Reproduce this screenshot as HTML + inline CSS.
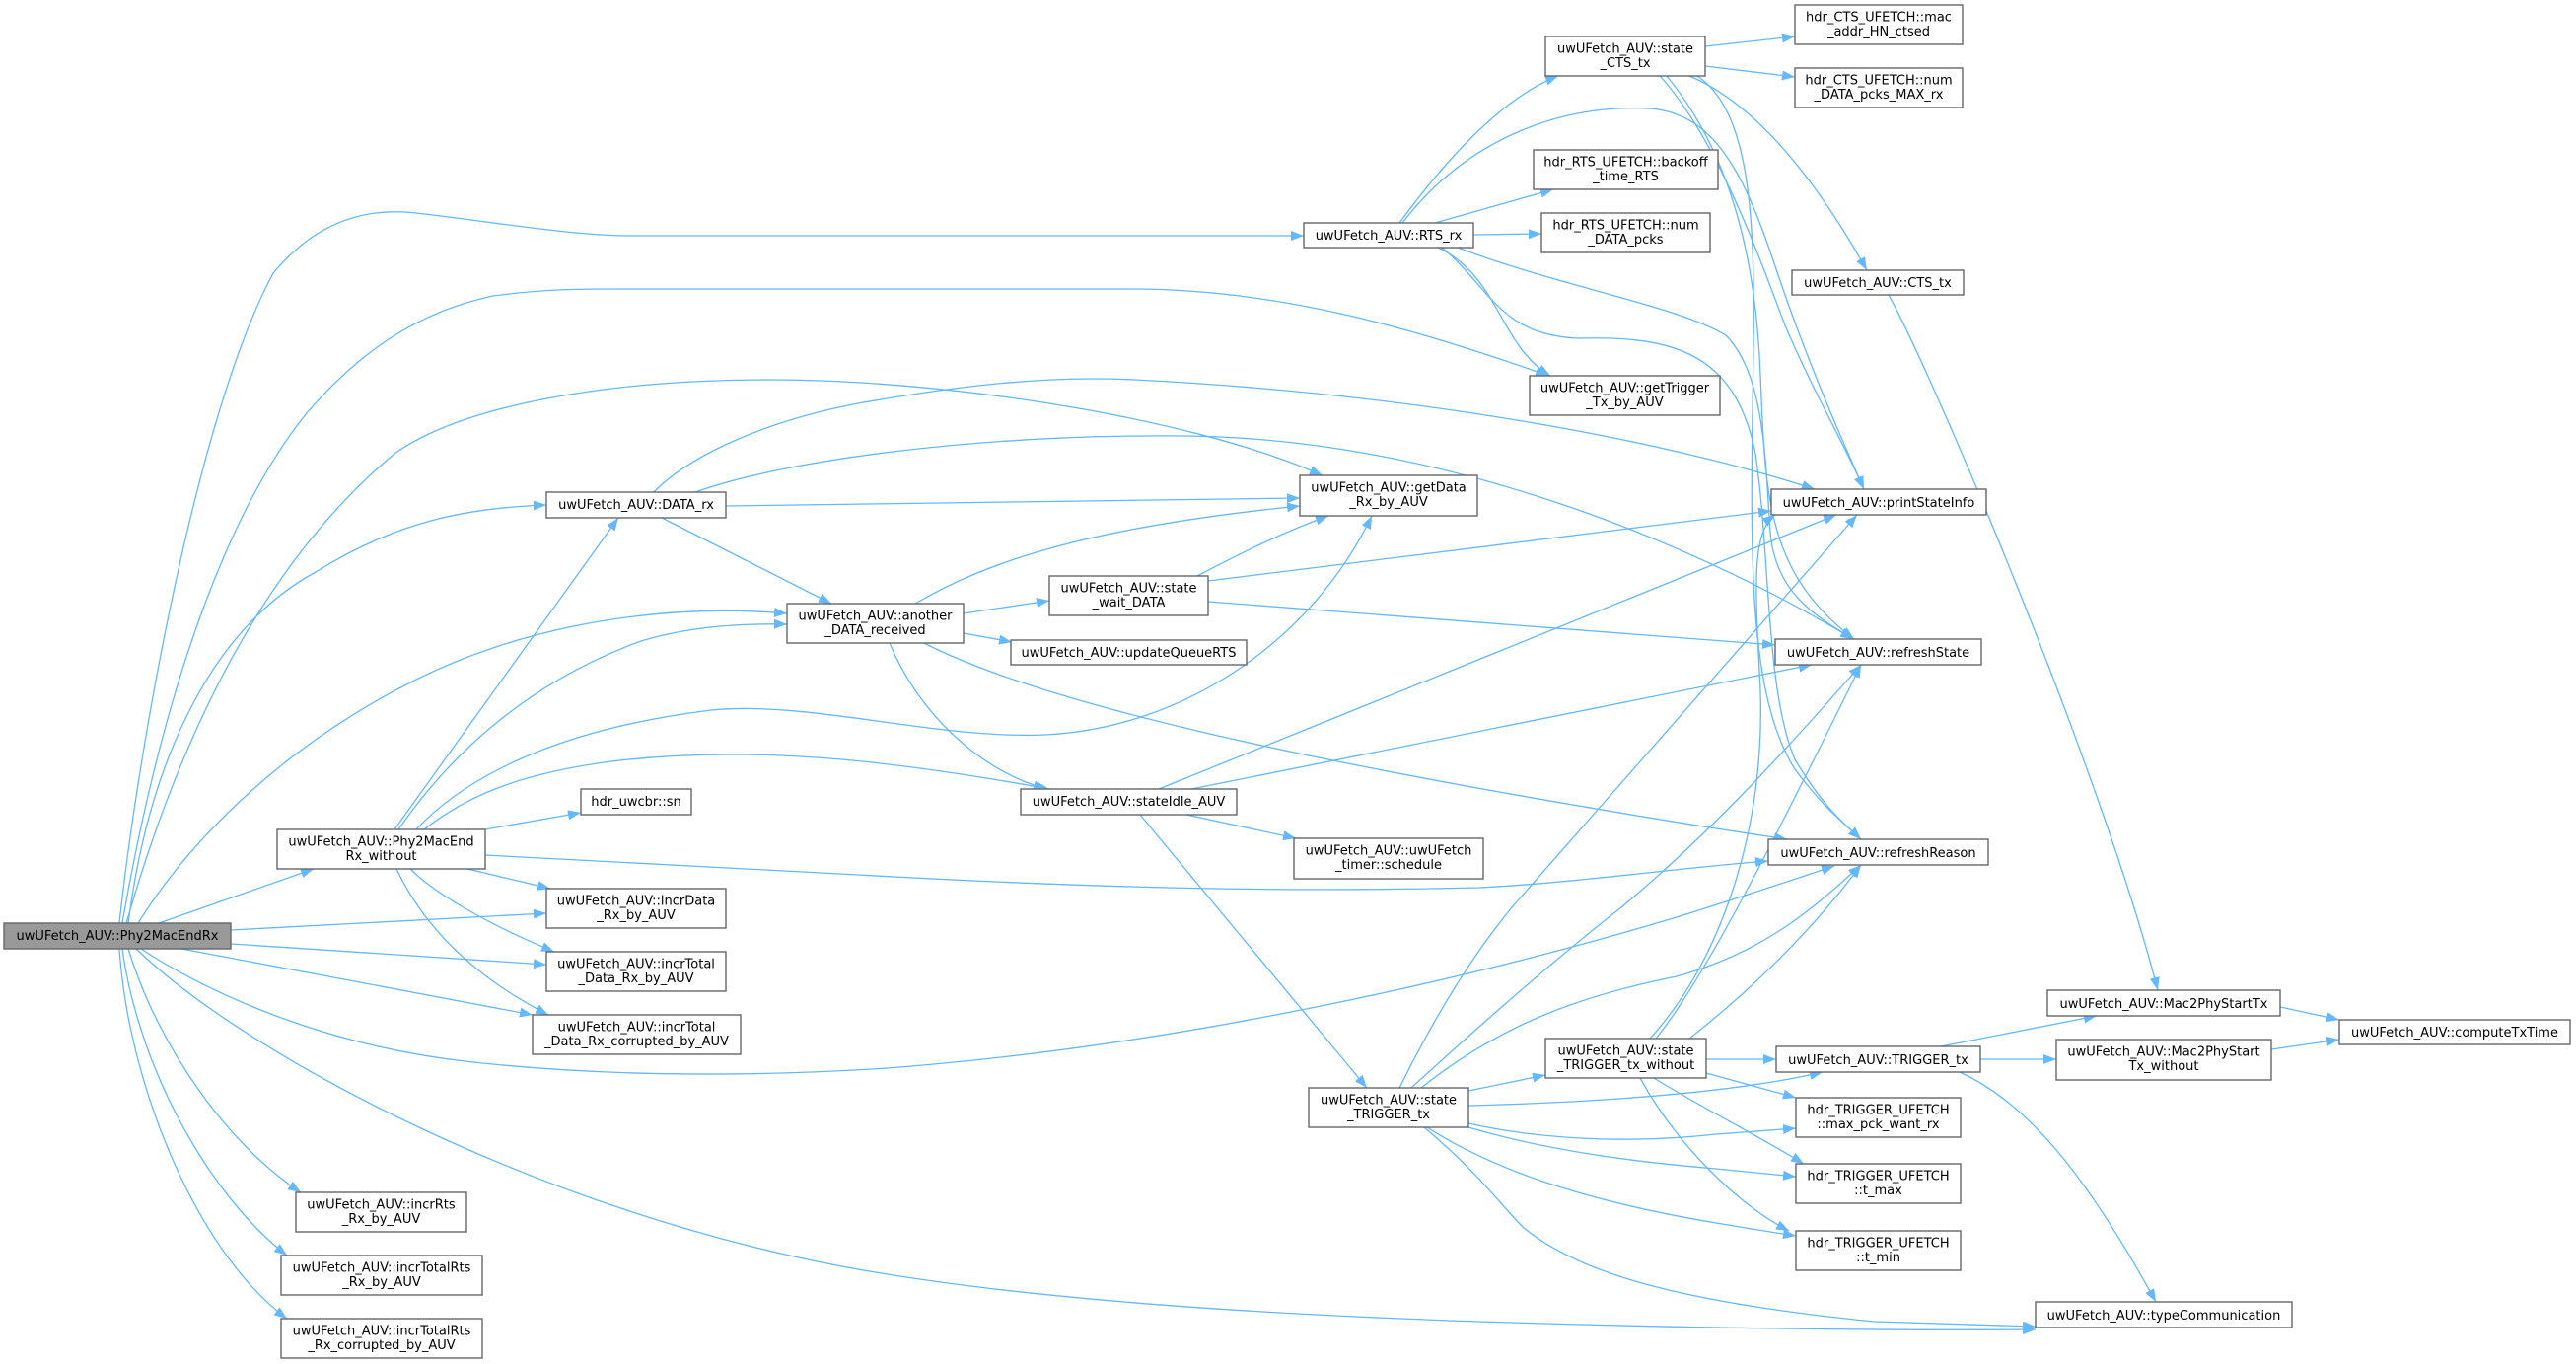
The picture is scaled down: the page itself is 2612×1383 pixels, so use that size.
<!DOCTYPE html>
<html>
<head>
<meta charset="utf-8">
<style>
html,body{margin:0;padding:0;background:#fff;}
body{width:2612px;height:1383px;overflow:hidden;}
svg{display:block;}
text{font-family:"DejaVu Sans","Liberation Sans",sans-serif;font-size:13px;fill:#000;text-anchor:middle;}
.e{fill:none;stroke:#63b8ff;stroke-width:1.3;marker-end:url(#a);}
.n{fill:#fff;stroke:#666;stroke-width:1.4;}
</style>
</head>
<body>
<svg width="2612" height="1383" viewBox="0 0 2612 1383" xmlns="http://www.w3.org/2000/svg">
<defs>
<marker id="a" markerWidth="14" markerHeight="11" refX="13" refY="5" orient="auto" markerUnits="userSpaceOnUse">
<path d="M0,0 L13,5 L0,10 z" fill="#63b8ff"/>
</marker>
</defs>
<g>
<path class="e" d="M121,936 C140,760 200,420 277,277 C320,225 370,210 422,216 C500,225 580,239 640,239 L1322,239"/>
<path class="e" d="M124,936 C165,700 230,520 310,420 C370,350 430,315 500,300 C560,292 600,293 640,293 L1147,293 C1300,293 1440,335 1570,381"/>
<path class="e" d="M128,936 C190,720 280,560 400,460 C470,410 620,385 780,385 C950,385 1200,420 1341,482"/>
<path class="e" d="M130,936 C150,780 210,640 320,580 C400,530 470,515 554,512"/>
<path class="e" d="M140,936 C200,840 300,750 420,690 C540,630 680,612 798,622"/>
<path class="e" d="M161,936 L318,881"/>
<path class="e" d="M234,943 L554,926"/>
<path class="e" d="M234,957 L554,978"/>
<path class="e" d="M184,962 L540,1029"/>
<path class="e" d="M143,962 C200,1000 320,1060 480,1077 C620,1092 760,1092 900,1083 C1200,1060 1500,990 1700,930 C1780,905 1830,888 1860,878"/>
<path class="e" d="M130,962 C160,1060 230,1160 305,1209"/>
<path class="e" d="M124,962 C140,1080 210,1210 291,1273"/>
<path class="e" d="M121,962 C130,1100 200,1270 291,1337"/>
<path class="e" d="M138,962 C250,1070 550,1230 870,1287 C1000,1310 1200,1330 1500,1340 C1750,1348 1950,1349 2064,1348"/>

<path class="e" d="M400,841 L627,525"/>
<path class="e" d="M404,841 C460,760 540,690 650,650 C700,635 750,632 798,633"/>
<path class="e" d="M422,841 C470,790 560,740 721,720 C820,710 950,750 1060,745 C1200,738 1330,650 1391,523"/>
<path class="e" d="M430,841 C470,810 520,785 620,772 C760,755 900,770 1064,800"/>
<path class="e" d="M492,841 L589,824"/>
<path class="e" d="M492,867 L870,887 C1100,900 1300,905 1500,900 C1600,895 1700,880 1793,873"/>
<path class="e" d="M474,881 L558,901"/>
<path class="e" d="M416,881 C440,905 490,935 562,965"/>
<path class="e" d="M402,881 C430,940 480,990 556,1029"/>

<path class="e" d="M671,525 L843,612"/>
<path class="e" d="M736,513 L1318,505"/>
<path class="e" d="M663,499 C690,470 760,430 870,409 C950,395 1050,380 1150,385 C1450,400 1700,450 1840,496"/>
<path class="e" d="M705,499 C800,465 1000,440 1203,442 C1450,445 1700,540 1879,648"/>

<path class="e" d="M928,612 C1000,570 1100,535 1318,513"/>
<path class="e" d="M977,622 L1064,609"/>
<path class="e" d="M977,642 L1026,651"/>
<path class="e" d="M902,652 C930,720 990,780 1061,800"/>
<path class="e" d="M937,652 C1050,710 1300,770 1740,840 L1812,851"/>

<path class="e" d="M1214,584 C1260,560 1300,540 1347,523"/>
<path class="e" d="M1225,589 L1796,518"/>
<path class="e" d="M1225,610 L1800,654"/>

<path class="e" d="M1175,800 L1862,522"/>
<path class="e" d="M1208,800 L1837,674"/>
<path class="e" d="M1203,826 L1314,850"/>
<path class="e" d="M1156,826 L1386,1103"/>

<path class="e" d="M1419,226 C1460,170 1520,100 1580,77"/>
<path class="e" d="M1422,226 C1480,150 1570,105 1673,110 C1740,115 1770,180 1800,270 C1830,360 1865,440 1890,496"/>
<path class="e" d="M1455,226 L1575,192"/>
<path class="e" d="M1494,238 L1563,237"/>
<path class="e" d="M1458,251 C1520,280 1520,350 1572,381"/>
<path class="e" d="M1478,251 C1580,290 1700,310 1750,340 C1790,380 1790,470 1795,540 C1800,600 1840,625 1880,648"/>
<path class="e" d="M1462,251 C1510,290 1520,340 1600,343 C1700,340 1760,360 1780,460 C1795,560 1790,700 1820,770 C1850,820 1870,835 1887,851"/>

<path class="e" d="M1729,47 L1820,37"/>
<path class="e" d="M1729,67 L1820,78"/>
<path class="e" d="M1713,77 C1780,105 1840,180 1893,274"/>
<path class="e" d="M1683,77 C1740,140 1780,250 1810,330 C1840,400 1870,450 1890,496"/>
<path class="e" d="M1690,77 C1750,150 1780,250 1785,380 C1790,500 1790,580 1880,648"/>
<path class="e" d="M1721,77 C1770,110 1780,200 1778,350 C1775,550 1770,700 1820,780 C1850,820 1870,835 1887,851"/>

<path class="e" d="M1915,299 C1960,380 2130,780 2188,1004"/>

<path class="e" d="M1419,1103 C1460,1020 1500,960 1533,920 L1883,522"/>
<path class="e" d="M1431,1103 C1500,1040 1580,970 1644,920 C1740,840 1820,750 1887,674"/>
<path class="e" d="M1441,1103 C1520,1040 1600,1010 1700,990 C1790,965 1840,920 1887,877"/>
<path class="e" d="M1489,1106 L1567,1090"/>
<path class="e" d="M1489,1121 C1600,1118 1750,1110 1848,1087"/>
<path class="e" d="M1489,1139 C1560,1155 1650,1160 1740,1150 L1821,1144"/>
<path class="e" d="M1489,1143 C1580,1170 1680,1180 1740,1185 L1821,1193"/>
<path class="e" d="M1447,1143 C1520,1190 1620,1220 1740,1240 C1770,1245 1800,1250 1821,1253"/>
<path class="e" d="M1444,1143 C1500,1190 1520,1220 1545,1245 C1600,1290 1700,1320 1900,1340 L2064,1345"/>

<path class="e" d="M1673,1053 C1740,980 1790,850 1785,700 C1780,600 1775,540 1800,522"/>
<path class="e" d="M1679,1053 C1730,990 1800,850 1887,674"/>
<path class="e" d="M1713,1053 C1780,1000 1840,940 1887,877"/>
<path class="e" d="M1730,1074 L1801,1074"/>
<path class="e" d="M1730,1088 L1821,1113"/>
<path class="e" d="M1677,1093 C1720,1120 1780,1150 1829,1180"/>
<path class="e" d="M1663,1093 C1700,1160 1760,1220 1814,1248"/>

<path class="e" d="M1968,1061 L2126,1030"/>
<path class="e" d="M2008,1074 L2085,1074"/>
<path class="e" d="M1987,1087 C2060,1120 2120,1200 2186,1320"/>

<path class="e" d="M2312,1021 L2372,1034"/>
<path class="e" d="M2303,1064 L2372,1054"/>
</g>

<g>
<rect x="4" y="936" width="230" height="26" style="fill:#999;stroke:#666;stroke-width:1.4"/>
<text x="119" y="953">uwUFetch_AUV::Phy2MacEndRx</text>

<rect class="n" x="281" y="841" width="211" height="40"/>
<text x="386.5" y="857.5">uwUFetch_AUV::Phy2MacEnd</text><text x="386.5" y="872">Rx_without</text>

<rect class="n" x="554" y="499" width="182" height="26"/>
<text x="645" y="516">uwUFetch_AUV::DATA_rx</text>

<rect class="n" x="798" y="612" width="179" height="40"/>
<text x="887.5" y="628.5">uwUFetch_AUV::another</text><text x="887.5" y="643">_DATA_received</text>

<rect class="n" x="589" y="800" width="112" height="26"/>
<text x="645" y="817">hdr_uwcbr::sn</text>

<rect class="n" x="554" y="901" width="182" height="40"/>
<text x="645" y="917.5">uwUFetch_AUV::incrData</text><text x="645" y="932">_Rx_by_AUV</text>

<rect class="n" x="554" y="965" width="182" height="40"/>
<text x="645" y="981.5">uwUFetch_AUV::incrTotal</text><text x="645" y="996">_Data_Rx_by_AUV</text>

<rect class="n" x="540" y="1029" width="211" height="40"/>
<text x="645.5" y="1045.5">uwUFetch_AUV::incrTotal</text><text x="645.5" y="1060">_Data_Rx_corrupted_by_AUV</text>

<rect class="n" x="300" y="1209" width="173" height="40"/>
<text x="386.5" y="1225.5">uwUFetch_AUV::incrRts</text><text x="386.5" y="1240">_Rx_by_AUV</text>

<rect class="n" x="285" y="1273" width="204" height="40"/>
<text x="387" y="1289.5">uwUFetch_AUV::incrTotalRts</text><text x="387" y="1304">_Rx_by_AUV</text>

<rect class="n" x="285" y="1337" width="204" height="40"/>
<text x="387" y="1353.5">uwUFetch_AUV::incrTotalRts</text><text x="387" y="1368">_Rx_corrupted_by_AUV</text>

<rect class="n" x="1322" y="226" width="172" height="25"/>
<text x="1408" y="243">uwUFetch_AUV::RTS_rx</text>

<rect class="n" x="1551" y="381" width="193" height="40"/>
<text x="1647.5" y="397.5">uwUFetch_AUV::getTrigger</text><text x="1647.5" y="412">_Tx_by_AUV</text>

<rect class="n" x="1318" y="482" width="180" height="41"/>
<text x="1408" y="498.5">uwUFetch_AUV::getData</text><text x="1408" y="513">_Rx_by_AUV</text>

<rect class="n" x="1064" y="584" width="161" height="40"/>
<text x="1144.5" y="600.5">uwUFetch_AUV::state</text><text x="1144.5" y="615">_wait_DATA</text>

<rect class="n" x="1025" y="649" width="239" height="25"/>
<text x="1144.5" y="666">uwUFetch_AUV::updateQueueRTS</text>

<rect class="n" x="1035" y="800" width="219" height="26"/>
<text x="1144.5" y="817">uwUFetch_AUV::stateIdle_AUV</text>

<rect class="n" x="1312" y="850" width="192" height="41"/>
<text x="1408" y="866.5">uwUFetch_AUV::uwUFetch</text><text x="1408" y="881">_timer::schedule</text>

<rect class="n" x="1327" y="1103" width="162" height="40"/>
<text x="1408" y="1119.5">uwUFetch_AUV::state</text><text x="1408" y="1134">_TRIGGER_tx</text>

<rect class="n" x="1567" y="37" width="162" height="40"/>
<text x="1648" y="53.5">uwUFetch_AUV::state</text><text x="1648" y="68">_CTS_tx</text>

<rect class="n" x="1555" y="152" width="187" height="40"/>
<text x="1648.5" y="168.5">hdr_RTS_UFETCH::backoff</text><text x="1648.5" y="183">_time_RTS</text>

<rect class="n" x="1563" y="216" width="171" height="40"/>
<text x="1648.5" y="232.5">hdr_RTS_UFETCH::num</text><text x="1648.5" y="247">_DATA_pcks</text>

<rect class="n" x="1820" y="5" width="170" height="40"/>
<text x="1905" y="21.5">hdr_CTS_UFETCH::mac</text><text x="1905" y="36">_addr_HN_ctsed</text>

<rect class="n" x="1820" y="69" width="170" height="40"/>
<text x="1905" y="85.5">hdr_CTS_UFETCH::num</text><text x="1905" y="100">_DATA_pcks_MAX_rx</text>

<rect class="n" x="1817" y="274" width="174" height="25"/>
<text x="1904" y="291">uwUFetch_AUV::CTS_tx</text>

<rect class="n" x="1796" y="496" width="218" height="26"/>
<text x="1905" y="514">uwUFetch_AUV::printStateInfo</text>

<rect class="n" x="1800" y="648" width="209" height="26"/>
<text x="1904.5" y="666">uwUFetch_AUV::refreshState</text>

<rect class="n" x="1793" y="851" width="223" height="26"/>
<text x="1904.5" y="869">uwUFetch_AUV::refreshReason</text>

<rect class="n" x="1567" y="1053" width="163" height="40"/>
<text x="1648.5" y="1069.5">uwUFetch_AUV::state</text><text x="1648.5" y="1084">_TRIGGER_tx_without</text>

<rect class="n" x="1801" y="1061" width="207" height="26"/>
<text x="1904.5" y="1079">uwUFetch_AUV::TRIGGER_tx</text>

<rect class="n" x="1821" y="1113" width="167" height="40"/>
<text x="1904.5" y="1129.5">hdr_TRIGGER_UFETCH</text><text x="1904.5" y="1144">::max_pck_want_rx</text>

<rect class="n" x="1821" y="1180" width="167" height="40"/>
<text x="1904.5" y="1196.5">hdr_TRIGGER_UFETCH</text><text x="1904.5" y="1211">::t_max</text>

<rect class="n" x="1821" y="1248" width="167" height="40"/>
<text x="1904.5" y="1264.5">hdr_TRIGGER_UFETCH</text><text x="1904.5" y="1279">::t_min</text>

<rect class="n" x="2064" y="1320" width="260" height="26"/>
<text x="2194" y="1338">uwUFetch_AUV::typeCommunication</text>

<rect class="n" x="2076" y="1004" width="236" height="26"/>
<text x="2194" y="1022">uwUFetch_AUV::Mac2PhyStartTx</text>

<rect class="n" x="2085" y="1054" width="218" height="41"/>
<text x="2194" y="1070.5">uwUFetch_AUV::Mac2PhyStart</text><text x="2194" y="1085">Tx_without</text>

<rect class="n" x="2372" y="1034" width="234" height="25"/>
<text x="2489" y="1051">uwUFetch_AUV::computeTxTime</text>
</g>
</svg>
</body>
</html>
